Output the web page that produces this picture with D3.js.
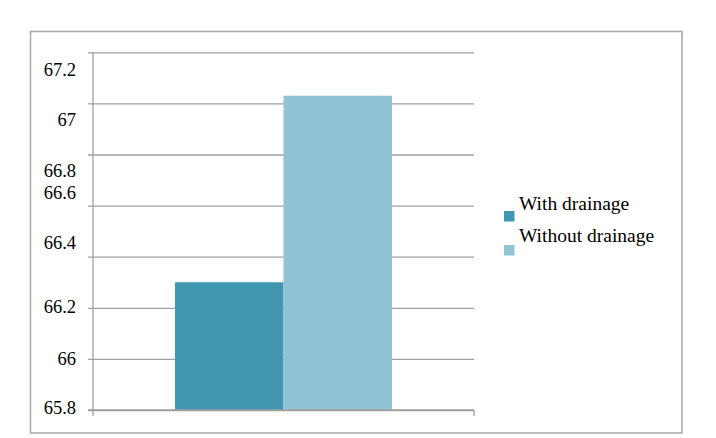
<!DOCTYPE html>
<html><head><meta charset="utf-8">
<script src="https://cdn.jsdelivr.net/npm/d3@7"></script>
<style>html,body{margin:0;padding:0;background:#fff;}svg{display:block;}</style>
</head><body>
<svg id="chart" width="716" height="438"></svg>
<script>
// ---- data ----
const categories = ["Drainage"];
const seriesNames = ["With drainage", "Without drainage"];
const seriesValues = [66.30, 67.03];
const yTickValues = [65.8, 66.0, 66.2, 66.4, 66.6, 66.8, 67.0, 67.2];
const yTickLabels = ["65.8", "66", "66.2", "66.4", "66.6", "66.8", "67", "67.2"];

// ---- layout / style (not data) ----
const colors = ["#4197af", "#92c3d4"];
const labelShift = [-1, 0.5, 0, -12.8, -12.3, 17, 17, 18];
const font = "'Liberation Serif', 'Times New Roman', serif";

const svg = d3.select("#chart");
const plot = {left: 93, right: 474, top: 52.3, bottom: 410};

svg.append("rect").attr("x", 30.5).attr("y", 31.5).attr("width", 651.5).attr("height", 401.5)
  .attr("fill", "#fff").attr("stroke", "#a6a6a6").attr("stroke-width", 1.5);

const y = d3.scaleLinear().domain([65.8, 67.2]).range([plot.bottom, plot.top]);
const x0 = d3.scaleBand().domain(categories).range([plot.left, plot.right]).paddingInner(0).paddingOuter(0.378);
const x1 = d3.scaleBand().domain(seriesNames).range([0, x0.bandwidth()]).padding(0);

// gridlines + left ticks
const yAxis = d3.axisLeft(y).tickValues(yTickValues).tickSize(-(plot.right - plot.left)).tickFormat("");
const gy = svg.append("g").attr("transform", `translate(${plot.left},0)`).call(yAxis);
gy.select(".domain").remove();
gy.selectAll(".tick line").attr("x1", -5).attr("stroke", "#a0a0a0").attr("stroke-width", 1.3);

// labels
svg.append("g").selectAll("text").data(yTickValues).join("text")
  .attr("x", 76).attr("y", (d, i) => y(d) + 5.3 + labelShift[i])
  .attr("text-anchor", "end").attr("font-family", font).attr("font-size", 18.5).attr("fill", "#000")
  .text((d, i) => yTickLabels[i]);

// bars
svg.append("g").selectAll("g").data(categories).join("g")
  .attr("transform", d => `translate(${x0(d)},0)`)
  .selectAll("rect").data(seriesNames.map((s, i) => ({s, v: seriesValues[i], i}))).join("rect")
  .attr("x", d => x1(d.s)).attr("width", x1.bandwidth())
  .attr("y", d => y(d.v)).attr("height", d => y(65.8) - y(d.v))
  .attr("fill", d => colors[d.i]);

// y axis line
svg.append("line").attr("x1", plot.left).attr("x2", plot.left).attr("y1", plot.top).attr("y2", plot.bottom + 6)
  .attr("stroke", "#a0a0a0").attr("stroke-width", 1.3);
// x axis
const xAxis = d3.axisBottom(x0).tickSize(0).tickFormat("");
const gx = svg.append("g").attr("transform", `translate(0,${plot.bottom})`).call(xAxis);
gx.selectAll("path,line").remove();
svg.append("line").attr("x1", plot.left - 5).attr("x2", plot.right).attr("y1", plot.bottom).attr("y2", plot.bottom)
  .attr("stroke", "#a0a0a0").attr("stroke-width", 1.3);
svg.append("line").attr("x1", plot.right).attr("x2", plot.right).attr("y1", plot.bottom).attr("y2", plot.bottom + 6)
  .attr("stroke", "#a0a0a0").attr("stroke-width", 1.3);

// legend
const lg = svg.append("g").selectAll("g").data(seriesNames).join("g");
lg.append("rect").attr("x", 504).attr("y", (d, i) => 211 + i * 34)
  .attr("width", 10.5).attr("height", 10.5).attr("fill", (d, i) => colors[i]);
lg.append("text").attr("x", 519).attr("y", (d, i) => 210 + i * 31.7)
  .attr("font-family", font).attr("font-size", 19.5).attr("fill", "#000")
  .text(d => d);
</script>
</body></html>
